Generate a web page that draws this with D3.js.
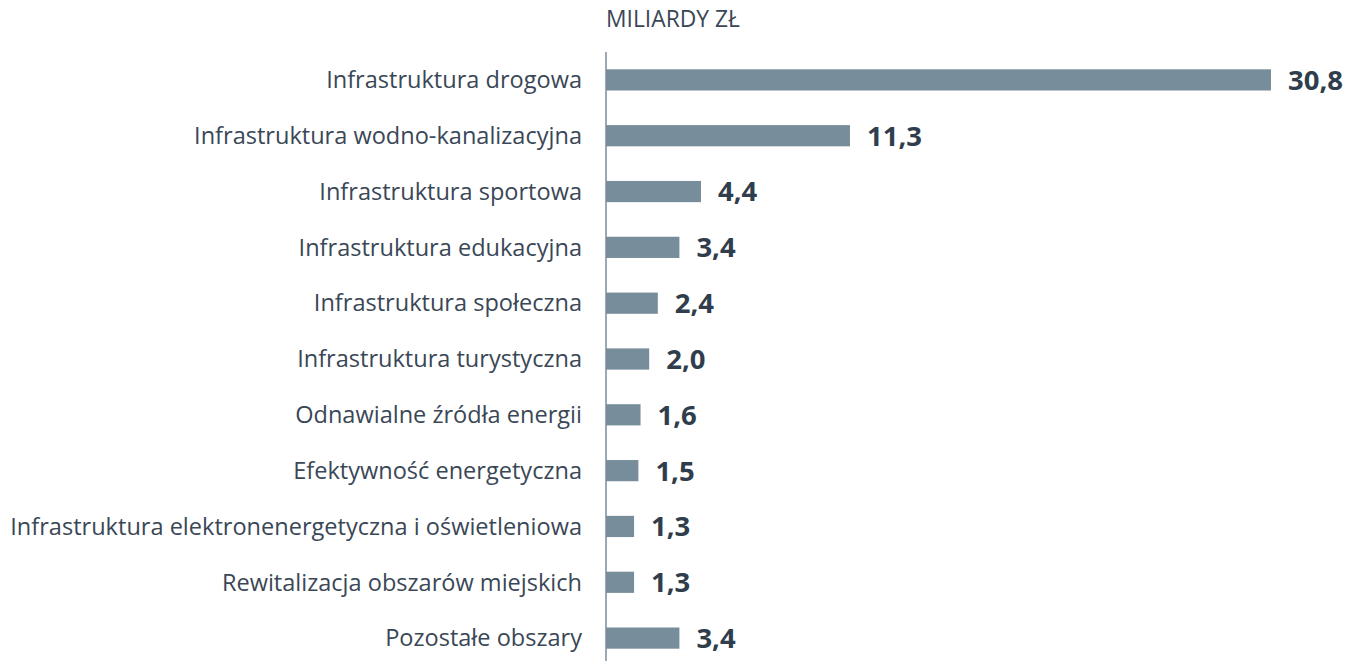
<!DOCTYPE html>
<html><head><meta charset="utf-8">
<script src="https://cdn.jsdelivr.net/npm/d3@7"></script>
<style>body{margin:0;background:#fff;}svg{display:block;}</style>
</head><body>
<svg id="c" width="1348" height="661"></svg>
<script>
const categories = [
  "Infrastruktura drogowa",
  "Infrastruktura wodno-kanalizacyjna",
  "Infrastruktura sportowa",
  "Infrastruktura edukacyjna",
  "Infrastruktura społeczna",
  "Infrastruktura turystyczna",
  "Odnawialne źródła energii",
  "Efektywność energetyczna",
  "Infrastruktura elektronenergetyczna i oświetleniowa",
  "Rewitalizacja obszarów miejskich",
  "Pozostałe obszary"
];
const values = [30.8, 11.3, 4.4, 3.4, 2.4, 2.0, 1.6, 1.5, 1.3, 1.3, 3.4];
const unitLabel = "MILIARDY ZŁ";

const svg = d3.select("#c");
const axisX = 606;
const font = "'Open Sans', sans-serif";
const x = d3.scaleLinear().domain([0, 30.8]).range([axisX, 1271]);
const y = d3.scaleBand().domain(categories).range([52, 666]).paddingInner(0.62).paddingOuter(0.31);

// fit a font size so a sample string reaches a target width
function fitSize(str, target, weight) {
  const t = svg.append("text").attr("font-family", font).attr("font-size", 20)
    .attr("font-weight", weight).text(str);
  const w = t.node().getComputedTextLength();
  t.remove();
  return 20 * target / w;
}
const catSize = fitSize(categories[8], 572, "normal");
const valSize = fitSize("30,8", 55, "bold");
const titleSize = fitSize(unitLabel, 134, "normal");

svg.append("text").attr("x", axisX).attr("y", 27).attr("font-family", font)
  .attr("font-size", titleSize).attr("fill", "#3a4756").text(unitLabel);

svg.selectAll("rect.bar").data(values).join("rect").attr("class","bar")
  .attr("x", x(0)).attr("y", (d,i)=>y(categories[i]))
  .attr("width", d=>x(d)-x(0)).attr("height", y.bandwidth())
  .attr("fill", "#788d9b");

svg.append("line").attr("x1", axisX).attr("x2", axisX).attr("y1", 52).attr("y2", 661)
  .attr("stroke", "#7b8d9a").attr("stroke-width", 1.5);

svg.selectAll("text.cat").data(categories).join("text").attr("class","cat")
  .attr("x", 582).attr("y", d=>y(d)+y.bandwidth()/2).attr("dy","0.35em")
  .attr("text-anchor","end").attr("font-family", font).attr("font-size", catSize)
  .attr("fill", "#3a4756").text(d=>d);

svg.selectAll("text.val").data(values).join("text").attr("class","val")
  .attr("x", d=>x(d)+17).attr("y", (d,i)=>y(categories[i])+y.bandwidth()/2).attr("dy","0.36em")
  .attr("font-family", font).attr("font-size", valSize).attr("font-weight", "bold")
  .attr("fill", "#2f3d4c").text(d=>d3.format(".1f")(d).replace(".", ","));
</script>
</body></html>
